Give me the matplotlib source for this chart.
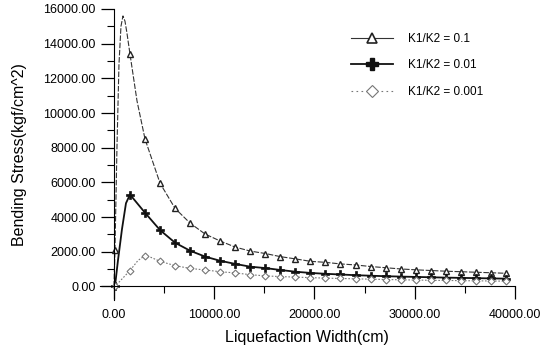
"""
Bending stress vs liquefaction width for three K1/K2 ratios
"""

import numpy as np
from matplotlib import pyplot as plt

plt.rcParams['font.family'] = ['Liberation Sans', 'DejaVu Sans']

# marker positions (cm)
width = [100, 1600, 3100, 4600, 6100, 7600, 9100, 10600, 12100, 13600,
         15100, 16600, 18100, 19600, 21100, 22600, 24100, 25600, 27100,
         28600, 30100, 31600, 33100, 34600, 36100, 37600, 39100]

stress_k01 = [2100, 13400, 8500, 5950, 4500, 3650, 3020, 2620, 2270, 2040,
              1900, 1720, 1590, 1450, 1390, 1300, 1240, 1150, 1080,
              1010, 960, 920, 880, 850, 820, 790, 760]
stress_k001 = [0, 5300, 4250, 3250, 2520, 2060, 1720, 1480, 1300, 1140,
               1060, 950, 850, 780, 730, 690, 650, 620, 590,
               570, 550, 530, 510, 495, 480, 465, 450]
stress_k0001 = [0, 920, 1780, 1450, 1200, 1040, 950, 850, 780, 680,
                610, 570, 540, 510, 480, 460, 440, 420, 400,
                385, 370, 355, 345, 335, 325, 315, 305]

# extra points of the curves near the peaks
rise_x_k01 = [0, 300, 500, 700, 900, 1100, 1300, 2300]
rise_y_k01 = [0, 8000, 12800, 15000, 15600, 15300, 14600, 10700]
rise_x_k001 = [0, 400, 800, 1200]
rise_y_k001 = [0, 1500, 3300, 4800]
rise_x_k0001 = [0, 2400, 3600]
rise_y_k0001 = [0, 1500, 1700]

labels = ['K1/K2 = 0.1', 'K1/K2 = 0.01', 'K1/K2 = 0.001']


def curve(rx, ry, x, y):
    xs = np.concatenate([rx, x])
    ys = np.concatenate([ry, y])
    order = np.argsort(xs, kind='stable')
    return xs[order], ys[order]


fig = plt.figure(figsize=(5.46, 3.46), dpi=100)
ax = fig.add_axes([0.183, 0.133, 0.76, 0.841])

x, y = curve(rise_x_k01, rise_y_k01, width, stress_k01)
ax.plot(x, y, color='#333333', lw=0.8, ls=(0, (5, 1.5)))
x, y = curve(rise_x_k001, rise_y_k001, width, stress_k001)
ax.plot(x, y, color='#111111', lw=1.3)
x, y = curve(rise_x_k0001, rise_y_k0001, width, stress_k0001)
ax.plot(x, y, color='#777777', lw=0.8, ls=(0, (1.5, 1.5)))

ax.plot(width, stress_k01, ls='none', marker='^', ms=5, mfc='white',
        mec='#222222', mew=1.0)
ax.plot(width, stress_k001, ls='none', marker='P', ms=6, mfc='#111111',
        mec='#111111', mew=0.5)
ax.plot(width, stress_k0001, ls='none', marker='D', ms=3.5, mfc='white',
        mec='#777777', mew=0.8)

# legend handles
h1, = ax.plot([], [], color='#333333', lw=0.8, marker='^', ms=7,
              mfc='white', mec='#222222', mew=1.2)
h2, = ax.plot([], [], color='#111111', lw=1.3, marker='P', ms=9,
              mfc='#111111', mec='#111111')
h3, = ax.plot([], [], color='#777777', lw=0.8, ls=(0, (1.5, 3)), marker='D',
              ms=6, mfc='white', mec='#777777', mew=0.8)
ax.legend([h1, h2, h3], labels, loc='upper left', bbox_to_anchor=(0.58, 0.955),
          frameon=False, fontsize=8.5, handlelength=3.5, handletextpad=1.3,
          labelspacing=1.25)

ax.set_xlim(-1400, 40000)
ax.set_ylim(-780, 16000)
ax.spines['left'].set_position(('data', 0))
ax.spines['bottom'].set_position(('data', 0))
ax.spines['top'].set_visible(False)
ax.spines['right'].set_visible(False)
ax.spines['left'].set_bounds(-780, 16000)
ax.spines['bottom'].set_bounds(-1400, 40000)

ax.set_xticks(np.arange(0, 40001, 10000))
ax.set_xticks(np.arange(0, 40001, 5000), minor=True)
ax.set_yticks(np.arange(0, 16001, 2000))
ax.set_yticks(np.arange(0, 16001, 1000), minor=True)
ax.xaxis.set_major_formatter(plt.FormatStrFormatter('%.2f'))
ax.yaxis.set_major_formatter(plt.FormatStrFormatter('%.2f'))
ax.tick_params(which='major', length=9.5, width=0.9, labelsize=9, direction='out')
ax.tick_params(which='minor', length=5, width=0.8, direction='out')
ax.tick_params(axis='x', which='major', pad=7)

ax.set_xlabel('Liquefaction Width(cm)', fontsize=11.5, labelpad=6)
ax.set_ylabel('Bending Stress(kgf/cm^2)', fontsize=11.5, labelpad=12)

plt.savefig('out.png', dpi=100)
